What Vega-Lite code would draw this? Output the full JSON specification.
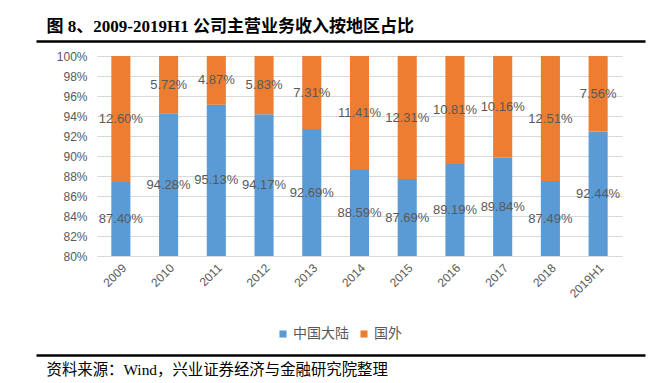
{
  "$schema": "https://vega.github.io/schema/vega-lite/v6.json",
  "background": "white",
  "padding": {"left": 33, "top": 17, "right": 5, "bottom": 0},
  "spacing": 0,
  "config": {"view": {"stroke": null}, "font": "Liberation Sans"},
  "datasets": {
    "frame": [{"v": 0}, {"v": 1}],
    "share": [
      {"year": "2009", "region": "中国大陆", "value": 0.8740},
      {"year": "2009", "region": "国外", "value": 0.1260},
      {"year": "2010", "region": "中国大陆", "value": 0.9428},
      {"year": "2010", "region": "国外", "value": 0.0572},
      {"year": "2011", "region": "中国大陆", "value": 0.9513},
      {"year": "2011", "region": "国外", "value": 0.0487},
      {"year": "2012", "region": "中国大陆", "value": 0.9417},
      {"year": "2012", "region": "国外", "value": 0.0583},
      {"year": "2013", "region": "中国大陆", "value": 0.9269},
      {"year": "2013", "region": "国外", "value": 0.0731},
      {"year": "2014", "region": "中国大陆", "value": 0.8859},
      {"year": "2014", "region": "国外", "value": 0.1141},
      {"year": "2015", "region": "中国大陆", "value": 0.8769},
      {"year": "2015", "region": "国外", "value": 0.1231},
      {"year": "2016", "region": "中国大陆", "value": 0.8919},
      {"year": "2016", "region": "国外", "value": 0.1081},
      {"year": "2017", "region": "中国大陆", "value": 0.8984},
      {"year": "2017", "region": "国外", "value": 0.1016},
      {"year": "2018", "region": "中国大陆", "value": 0.8749},
      {"year": "2018", "region": "国外", "value": 0.1251},
      {"year": "2019H1", "region": "中国大陆", "value": 0.9244},
      {"year": "2019H1", "region": "国外", "value": 0.0756}
    ]
  },
  "vconcat": [
    {
      "width": 525,
      "height": 9,
      "data": {"name": "frame"},
      "mark": {"type": "point", "opacity": 0},
      "encoding": {
        "x": {
          "field": "v", "type": "quantitative",
          "scale": {"domain": [0, 1], "nice": false, "zero": false, "range": [-61, 548]},
          "axis": {
            "orient": "top", "domain": true, "domainColor": "#000000", "domainWidth": 2.5,
            "ticks": false, "labels": false, "grid": false,
            "title": "图 8、2009-2019H1 公司主营业务收入按地区占比",
            "titleFont": "Liberation Serif, Noto Sans CJK SC",
            "titleFontWeight": "bold", "titleFontSize": 17, "titleColor": "#000000",
            "titleAnchor": "start", "titleAlign": "left", "titleX": -51, "titlePadding": 6
          }
        }
      }
    },
    {
      "width": 525,
      "height": 200,
      "data": {"name": "share"},
      "transform": [
        {"stack": "value", "groupby": ["year"], "sort": [{"field": "region", "order": "ascending"}], "as": ["v0", "v1"]},
        {"calculate": "(max(datum.v0, 0.8) + datum.v1) / 2", "as": "mid"}
      ],
      "encoding": {
        "x": {
          "field": "year", "type": "nominal", "sort": null,
          "scale": {"paddingInner": 0.6, "paddingOuter": 0.3},
          "axis": {
            "title": null, "labelAngle": -45, "ticks": false, "domain": false,
            "labelColor": "#595959", "labelFontSize": 12, "labelPadding": 6
          }
        }
      },
      "layer": [
        {
          "mark": {"type": "bar", "clip": true},
          "encoding": {
            "y": {
              "field": "v0", "type": "quantitative",
              "scale": {"domain": [0.8, 1], "nice": false, "zero": false},
              "axis": {
                "title": null, "format": ".0%",
                "values": [0.8, 0.82, 0.84, 0.86, 0.88, 0.9, 0.92, 0.94, 0.96, 0.98, 1.0],
                "tickCount": 20,
                "labelOverlap": false,
                "grid": true, "gridColor": "#D9D9D9", "gridWidth": 1,
                "ticks": false, "domain": false,
                "labelColor": "#595959", "labelFontSize": 12, "labelPadding": 10
              }
            },
            "y2": {"field": "v1"},
            "color": {
              "field": "region", "type": "nominal",
              "scale": {"domain": ["中国大陆", "国外"], "range": ["#5B9BD5", "#ED7D31"]},
              "legend": {
                "title": null, "orient": "none", "direction": "horizontal",
                "legendX": 179, "legendY": 286,
                "symbolType": "square", "symbolSize": 50, "symbolStrokeWidth": 0,
                "labelFont": "Noto Sans CJK SC", "labelFontSize": 14, "labelColor": "#595959",
                "labelOffset": 3, "columnPadding": 8
              }
            }
          }
        },
        {
          "mark": {"type": "text", "fontSize": 13, "color": "#595959"},
          "encoding": {
            "y": {"field": "mid", "type": "quantitative", "scale": {"domain": [0.8, 1], "nice": false, "zero": false}},
            "text": {"field": "value", "type": "quantitative", "format": ".2%"}
          }
        }
      ]
    },
    {
      "width": 525,
      "height": 55,
      "data": {"name": "frame"},
      "mark": {"type": "point", "opacity": 0},
      "encoding": {
        "x": {
          "field": "v", "type": "quantitative",
          "scale": {"domain": [0, 1], "nice": false, "zero": false, "range": [-61, 548]},
          "axis": {
            "orient": "bottom", "domain": true, "domainColor": "#000000", "domainWidth": 2.5,
            "ticks": false, "labels": false, "grid": false,
            "title": "资料来源：Wind，兴业证券经济与金融研究院整理",
            "titleFont": "Liberation Serif, Noto Sans CJK SC",
            "titleFontWeight": "normal", "titleFontSize": 15.4, "titleColor": "#000000",
            "titleAnchor": "start", "titleAlign": "left", "titleX": -51, "titlePadding": 7
          }
        }
      }
    }
  ]
}
